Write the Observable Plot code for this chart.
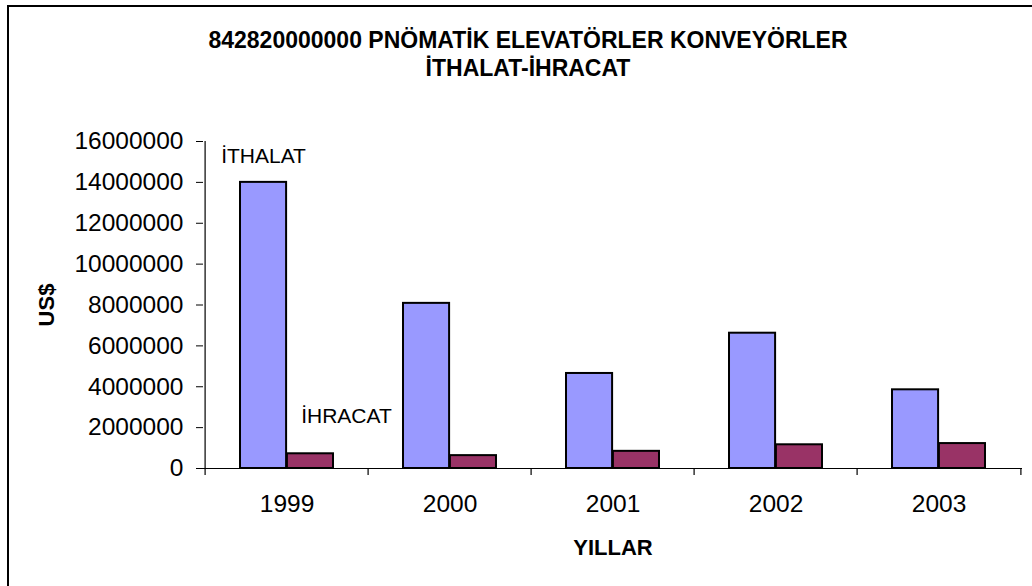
<!DOCTYPE html>
<html>
<head>
<meta charset="utf-8">
<script src="https://cdn.jsdelivr.net/npm/d3@7"></script>
<script src="https://cdn.jsdelivr.net/npm/@observablehq/plot@0.6"></script>
<style>
  html, body { margin: 0; padding: 0; background: #fff; overflow: hidden; }
  #wrap { position: relative; width: 1032px; height: 586px; overflow: hidden; font-family: Arial, "Liberation Sans", sans-serif; }
  #border { position: absolute; left: 7px; top: 5px; width: 1200px; height: 800px; border-left: 2px solid #000; border-top: 2px solid #000; box-sizing: border-box; }
  #title { position: absolute; left: 12px; top: 26px; width: 1032px; text-align: center; font-weight: bold; font-size: 23px; line-height: 28px; color: #000; }
  #chart { position: absolute; left: 0; top: 0; }
</style>
</head>
<body>
<div id="wrap">
  <div id="border"></div>
  <div id="chart"></div>
  <div id="title">842820000000 PNÖMATİK ELEVATÖRLER KONVEYÖRLER<br>İTHALAT-İHRACAT</div>
</div>
<script>
const years = ["1999", "2000", "2001", "2002", "2003"];
const seriesNames = ["İTHALAT", "İHRACAT"];
const ithalat = [14000000, 8080000, 4650000, 6620000, 3850000];
const ihracat = [720000, 630000, 840000, 1160000, 1220000];
const yTicks = [0, 2000000, 4000000, 6000000, 8000000, 10000000, 12000000, 14000000, 16000000];
const xLabel = "YILLAR";
const yLabel = "US$";

const W = 1032, H = 586, mL = 203, mR = 10, mT = 141, mB = 118;
const bw = (W - mL - mR) / years.length;
const impRows = years.map((y, i) => ({year: y, value: ithalat[i], series: seriesNames[0]}));
const expRows = years.map((y, i) => ({year: y, value: ihracat[i], series: seriesNames[1]}));

const outer = 0.2137; // outer gap as fraction of the band
const barStyle = {stroke: "#000", strokeWidth: 2};

const chart = Plot.plot({
  width: W, height: H,
  marginLeft: mL, marginRight: mR, marginTop: mT, marginBottom: mB,
  style: {fontFamily: "Arial, 'Liberation Sans', sans-serif", background: "transparent", color: "#000"},
  x: {type: "band", domain: years, padding: 0, axis: null},
  y: {domain: [0, 16000000], axis: null},
  marks: [
    Plot.barY(impRows, {x: "year", y: "value", fill: "#9999FF", ...barStyle, insetLeft: bw * outer, insetRight: bw * 0.5}),
    Plot.barY(expRows, {x: "year", y: "value", fill: "#993366", ...barStyle, insetLeft: bw * 0.5, insetRight: bw * outer}),
    Plot.ruleY([0], {stroke: "#000", strokeWidth: 1.2}),
    Plot.ruleX([years[0]], {dx: -bw / 2, stroke: "#000", strokeWidth: 1.2}),
    Plot.ruleX(years, {x: d => d, dx: -bw / 2, y1: 0, y2: 0, insetBottom: -7, stroke: "#000", strokeWidth: 1.2}),
    Plot.ruleX([years[years.length - 1]], {x: d => d, dx: bw / 2, y1: 0, y2: 0, insetBottom: -7, stroke: "#000", strokeWidth: 1.2}),
    Plot.axisY({ticks: yTicks, tickSize: 7, tickPadding: 13, fontSize: 24.5, tickFormat: d3.format("d"), label: null, stroke: "#000"}),
    Plot.axisX({tickSize: 0, tickPadding: 26, fontSize: 24.5, label: null}),
    Plot.text([impRows[0]], {x: "year", y: "value", text: d => d.series, dx: -bw * (0.5 - (outer + 0.5) / 2), dy: -26, fontSize: 21}),
    Plot.text([expRows[0]], {x: "year", y: "value", text: d => d.series, dx: 59.5, dy: -37.5, fontSize: 21}),
    Plot.text([yLabel], {frameAnchor: "left", text: d => d, dx: -157, rotate: -90, textAnchor: "middle", lineAnchor: "middle", fontSize: 22, fontWeight: "bold"}),
    Plot.text([xLabel], {frameAnchor: "bottom", text: d => d, dx: 0, dy: 79, textAnchor: "middle", lineAnchor: "middle", fontSize: 22, fontWeight: "bold"})
  ]
});
document.getElementById("chart").appendChild(chart);
</script>
</body>
</html>
